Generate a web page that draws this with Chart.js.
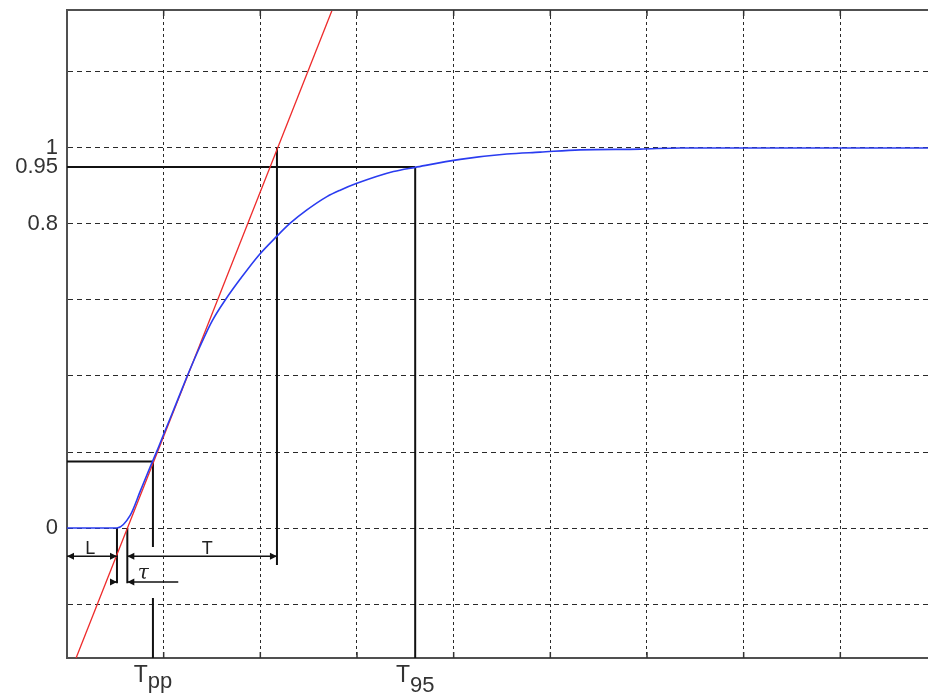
<!DOCTYPE html>
<html>
<head>
<meta charset="utf-8">
<script src="https://cdn.jsdelivr.net/npm/chart.js@4.4.0/dist/chart.umd.min.js"></script>
<style>
  html, body { margin: 0; padding: 0; background: #fff; }
  #wrap { width: 928px; height: 698px; }
</style>
</head>
<body>
<div id="wrap"><canvas id="stepChart" width="928" height="698"></canvas></div>
<script>
// Переходная характеристика, время в делениях сетки
const respT = [0, 0.517, 0.655, 0.758, 0.861, 0.931, 0.999, 1.068, 1.154, 1.244, 1.378, 1.502, 1.637, 1.792, 1.978, 2.172, 2.309, 2.482, 2.689, 2.826, 2.999, 3.377, 3.602, 4.067, 4.550, 4.895, 5.308, 5.929, 6.342, 8.907];
const respY = [0, 0, 0.034, 0.097, 0.161, 0.203, 0.246, 0.289, 0.343, 0.400, 0.479, 0.545, 0.600, 0.655, 0.716, 0.768, 0.802, 0.837, 0.872, 0.889, 0.907, 0.938, 0.949, 0.970, 0.984, 0.989, 0.995, 0.997, 1.0, 1.0];

// Касательная в точке перегиба
const tanT = [0.094, 2.743];
const tanY = [-0.342, 1.363];

// Характерные точки
const deadL = 0.517;    // конец L
const tanZero = 0.624;  // касательная пересекает 0
const tpp = 0.889;      // T_pp
const tppLevel = 0.175;
const tEnd = 2.172;     // касательная достигает 1
const t95 = 3.602;      // T_95
const tauEnd = 1.151;
const tauStart = 0.448;

// Оси
const xMin = 0, xMax = 8.907;
const yMin = -0.342, yMax = 1.363;
const xGrid = [0, 1, 2, 3, 4, 5, 6, 7, 8];
const yGrid = [-0.2, 0, 0.2, 0.4, 0.6, 0.8, 1.0, 1.2];
const yLabels = [0, 0.8, 0.95, 1];

// Уровни стрелок
const arrowY = -0.074;
const tauY = -0.142;

// Черные линии разметки: [x0, y0, x1, y1]
const markSegs = [
    [0, 0.95, t95, 0.95],
    [t95, 0.95, t95, yMin],
    [0, tppLevel, tpp, tppLevel],
    [tpp, tppLevel, tpp, -0.05],
    [tpp, -0.184, tpp, yMin],
    [tEnd, 1, tEnd, -0.097],
    [deadL, 0, deadL, -0.145],
    [tanZero, 0, tanZero, -0.145]
];

// Стрелки: [x0, x1, y, стрелка в x0, стрелка в x1]
const arrows = [
    [0, deadL, arrowY, true, true],
    [tanZero, tEnd, arrowY, true, true],
    [tauStart, deadL, tauY, false, true],
    [tanZero, tauEnd, tauY, true, false]
];

const near = (a, b) => Math.abs(a - b) < 1e-6;
const FONT = '"Liberation Sans", Arial, sans-serif';

const extras = {
    id: 'extras',
    afterDatasetsDraw(chart) {
        const { ctx, chartArea: a, scales: { x, y } } = chart;
        ctx.save();

        // верхняя рамка
        ctx.strokeStyle = '#505050';
        ctx.lineWidth = 2;
        ctx.beginPath();
        ctx.moveTo(a.left, a.top);
        ctx.lineTo(a.right, a.top);
        ctx.stroke();

        // внутренние засечки
        ctx.strokeStyle = '#333';
        ctx.lineWidth = 1.5;
        ctx.beginPath();
        xGrid.slice(1).forEach(v => {
            const px = x.getPixelForValue(v);
            ctx.moveTo(px, a.bottom); ctx.lineTo(px, a.bottom - 6);
            ctx.moveTo(px, a.top); ctx.lineTo(px, a.top + 6);
        });
        ctx.stroke();

        // стрелки
        ctx.strokeStyle = '#111';
        ctx.fillStyle = '#111';
        ctx.lineWidth = 1.5;
        arrows.forEach(([x0, x1, yy, h0, h1]) => {
            const p0 = x.getPixelForValue(x0);
            const p1 = x.getPixelForValue(x1);
            const py = y.getPixelForValue(yy);
            ctx.beginPath();
            ctx.moveTo(p0, py);
            ctx.lineTo(p1, py);
            ctx.stroke();
            const head = (px, dir) => {
                ctx.beginPath();
                ctx.moveTo(px, py);
                ctx.lineTo(px - dir * 7, py - 3.5);
                ctx.lineTo(px - dir * 7, py + 3.5);
                ctx.closePath();
                ctx.fill();
            };
            const dir = Math.sign(p1 - p0);
            if (h0) head(p0, -dir);
            if (h1) head(p1, dir);
        });

        // подписи L, T, tau
        ctx.fillStyle = '#222';
        ctx.textAlign = 'center';
        ctx.textBaseline = 'alphabetic';
        ctx.font = '18px ' + FONT;
        ctx.fillText('L', x.getPixelForValue(0.24), y.getPixelForValue(arrowY) - 2);
        ctx.fillText('T', x.getPixelForValue(1.45), y.getPixelForValue(arrowY) - 2);
        ctx.font = 'italic 20px "DejaVu Serif", serif';
        ctx.fillText('τ', x.getPixelForValue(0.79), y.getPixelForValue(tauY) - 3);

        // T_pp и T_95 под осью
        const subLabel = (v, main, sub, subDrop) => {
            const cx = x.getPixelForValue(v);
            ctx.font = '23px ' + FONT;
            const wMain = ctx.measureText(main).width;
            ctx.font = '22px ' + FONT;
            const wSub = ctx.measureText(sub).width;
            const left = cx - (wMain + wSub) / 2;
            ctx.textAlign = 'left';
            ctx.fillStyle = '#333';
            ctx.font = '23px ' + FONT;
            ctx.fillText(main, left, a.bottom + 24);
            ctx.font = '22px ' + FONT;
            ctx.fillText(sub, left + wMain, a.bottom + 24 + subDrop);
        };
        subLabel(tpp, 'T', 'pp', 6);
        subLabel(t95, 'T', '95', 10);

        ctx.restore();
    }
};

const ctx = document.getElementById('stepChart').getContext('2d');
const stepChart = new Chart(ctx, {
    type: 'line',
    data: {
        datasets: [
            {
                label: 'h(t)',
                data: respT.map((t, i) => ({ x: t, y: respY[i] })),
                borderColor: '#2a3cf0',
                borderWidth: 1.6,
                pointRadius: 0,
                cubicInterpolationMode: 'monotone',
                fill: false
            },
            {
                label: 'tangent',
                data: tanT.map((t, i) => ({ x: t, y: tanY[i] })),
                borderColor: '#ee2a2a',
                borderWidth: 1.3,
                pointRadius: 0,
                fill: false
            },
            {
                label: 'marks',
                data: markSegs.flatMap(s => [
                    { x: s[0], y: s[1] },
                    { x: s[2], y: s[3] },
                    { x: s[2], y: null }
                ]),
                borderColor: '#111',
                borderWidth: 2,
                pointRadius: 0,
                spanGaps: false,
                fill: false
            }
        ]
    },
    options: {
        responsive: false,
        animation: false,
        layout: { padding: { top: 10, right: 0, bottom: 0, left: 0 } },
        plugins: {
            legend: { display: false },
            tooltip: { enabled: false }
        },
        scales: {
            x: {
                type: 'linear',
                min: xMin,
                max: xMax,
                afterBuildTicks: (scale) => { scale.ticks = xGrid.map(v => ({ value: v })); },
                afterFit: (scale) => {
                    scale.height = 40;
                    scale.paddingLeft = 0; scale.paddingRight = 0;
                },
                ticks: { display: false },
                grid: { color: '#2a2a2a', lineWidth: 1, drawTicks: false },
                border: { display: true, color: '#505050', width: 2, dash: [3, 3] }
            },
            y: {
                type: 'linear',
                min: yMin,
                max: yMax,
                afterBuildTicks: (scale) => {
                    scale.ticks = yGrid.concat([0.95]).sort((p, q) => p - q).map(v => ({ value: v }));
                },
                afterFit: (scale) => {
                    scale.width = 67;
                    scale.paddingTop = 0; scale.paddingBottom = 0;
                },
                ticks: {
                    autoSkip: false,
                    padding: 9,
                    color: '#333',
                    font: { family: FONT, size: 22 },
                    callback: (v) => yLabels.some(l => near(l, v)) ? String(v) : ''
                },
                grid: {
                    drawTicks: false,
                    lineWidth: 1,
                    color: (c) => (c.tick && near(c.tick.value, 0.95)) ? 'rgba(0,0,0,0)' : '#2a2a2a'
                },
                border: { display: true, color: '#505050', width: 2, dash: [5, 4] }
            }
        }
    },
    plugins: [extras]
});
</script>
</body>
</html>
